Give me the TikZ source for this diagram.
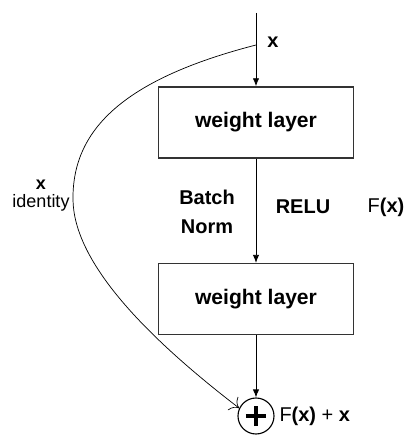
\documentclass[tikz,border=0pt]{standalone}
\usepackage{fontspec}
\setmainfont{Liberation Sans}
\usetikzlibrary{arrows.meta}
\tikzset{
  layerbox/.style={draw=black!80, line width=0.9pt, minimum width=4.875cm, minimum height=1.775cm, font=\bfseries\fontsize{15}{18}\selectfont},
  lbl/.style={font=\bfseries\fontsize{14.2}{20.6}\selectfont},
  flow/.style={-{Latex[length=2mm,width=1.6mm]}, line width=0.6pt},
}
\begin{document}
\begin{tikzpicture}
\useasboundingbox (0,0) rectangle (10.3,10.9);
\coordinate (in) at (6.4,10.575);
\coordinate (split) at (6.4,9.775);
\node[layerbox] (layer1) at (6.4,7.84) {weight layer};
\node[layerbox] (layer2) at (6.4,3.425) {weight layer};
\node[circle, draw, line width=0.8pt, minimum size=0.9cm, inner sep=0pt,
  path picture={\draw[line width=3.4pt] (path picture bounding box.center) ++(-0.25,0) -- ++(0.5,0)
    (path picture bounding box.center) ++(0,-0.25) -- ++(0,0.5);}] (add) at (6.4,0.5) {};
\draw[flow] (in) -- (layer1);
\draw[flow] (layer1) -- (layer2);
\draw[flow] (layer2) -- (add);
\draw[-{To[length=2mm]}, line width=0.5pt] (split) .. controls (3.0,8.9) and (1.8,7.6) .. (1.825,5.9)
  .. controls (1.85,4.4) and (3.5,2.6) .. (add.155);
\node[lbl] (xin) at (6.825,9.85) {x};
\node[font=\bfseries\fontsize{12.8}{15}\selectfont] (xid) at (1.025,6.275) {x};
\node[font=\fontsize{12.8}{15}\selectfont] (ident) at (1.025,5.825) {identity};
\node[lbl, align=center] (bn) at (5.175,5.61) {Batch\\Norm};
\node[lbl] (relu) at (7.575,5.725) {RELU};
\node[font=\fontsize{14.2}{17}\selectfont] (fx) at (9.65,5.725) {F\textbf{(x)}};
\node[font=\fontsize{14.2}{17}\selectfont, anchor=west] (out) at (add.east) {F\textbf{(x)} + \textbf{x}};
\end{tikzpicture}
\end{document}
